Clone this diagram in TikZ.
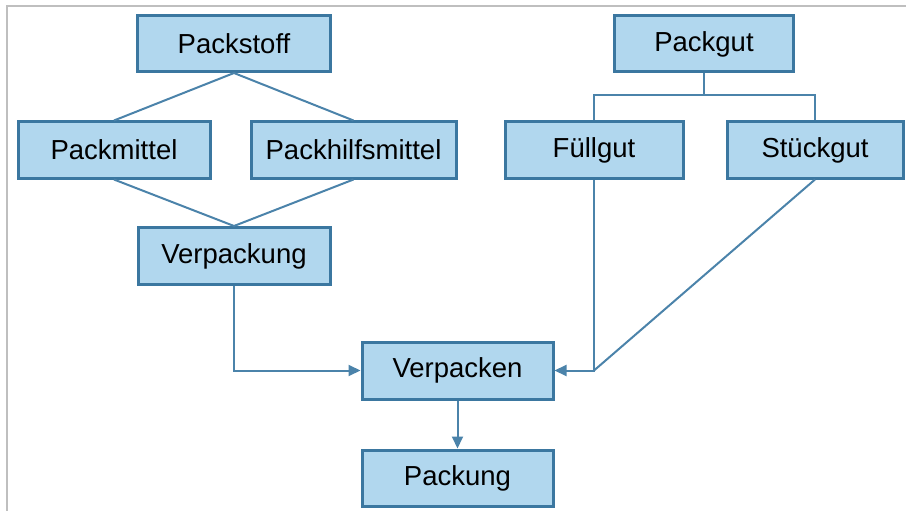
\documentclass[tikz,border=0pt]{standalone}
\usepackage{fontspec}
\setmainfont{Liberation Sans}
\usetikzlibrary{arrows.meta}
\definecolor{boxfill}{HTML}{B1D7EE}
\definecolor{boxline}{HTML}{3B77A0}
\definecolor{linkcol}{HTML}{4B83AA}
\begin{document}
\begin{tikzpicture}[x=1pt,y=-1pt,
	box/.style={rectangle, draw=boxline, fill=boxfill, line width=3pt, minimum height=56pt, inner sep=0pt, font=\fontsize{27.5}{32}\selectfont},
	link/.style={draw=linkcol, line width=2pt},
	pfeil/.style={link, -{Triangle[length=12pt,width=11pt]}}]
	\useasboundingbox (0,0) rectangle (906,511);
	\draw[black!25, line width=2pt] (7,511) -- (7,6) -- (906,6);
	\node (Packstoff)	at (234, 43.5)	[box, minimum width=193pt]	{Packstoff};
	\node (Packgut)		at (704, 44)	[box, minimum width=179pt]	{Packgut};
	\node (Packmittel)	at (114, 150)	[box, minimum width=192pt]	{Packmittel};
	\node (Packhilfsmittel)	at (353.5, 150)	[box, minimum width=205pt]	{Packhilfsmittel};
	\node (Fuellgut)	at (594, 150)	[box, minimum width=178pt]	{Füllgut};
	\node (Stueckgut)	at (815, 150)	[box, minimum width=176pt]	{Stückgut};
	\node (Verpackung)	at (234, 256)	[box, minimum width=192pt, minimum height=57pt]	{Verpackung};
	\node (Verpacken)	at (457.5, 370.5)	[box, minimum width=191pt, minimum height=57pt]	{Verpacken};
	\node (Packung)		at (457.5, 478)	[box, minimum width=191pt]	{Packung};
	% Packstoff
	\draw[link] (Packstoff.south) -- (Packmittel.north);
	\draw[link] (Packstoff.south) -- (Packhilfsmittel.north);
	\draw[link] (Packmittel.south) -- (Verpackung.north);
	\draw[link] (Packhilfsmittel.south) -- (Verpackung.north);
	% Packgut
	\coordinate (gabel) at (704, 95);
	\draw[link] (Packgut.south) -- (gabel);
	\draw[link] (Fuellgut.north) |- (gabel) -| (Stueckgut.north);
	% zum Verpacken
	\coordinate (knick) at (Fuellgut.south |- Verpacken.east);
	\draw[pfeil] (Verpackung.south) |- (Verpacken.west);
	\draw[pfeil] (Fuellgut.south) |- (Verpacken.east);
	\draw[link] (Stueckgut.south) -- (knick);
	\draw[pfeil] (Verpacken.south) -- (Packung.north);
\end{tikzpicture}
\end{document}
